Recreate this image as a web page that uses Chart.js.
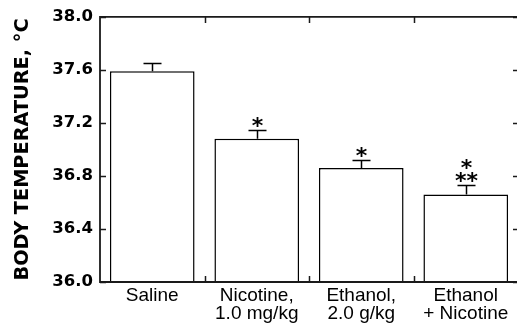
<!DOCTYPE html>
<html>
<head>
<meta charset="utf-8">
<script src="https://cdn.jsdelivr.net/npm/chart.js@4/dist/chart.umd.min.js"></script>
<style>
  html, body { margin: 0; padding: 0; background: #fff; overflow: hidden; }
  #wrap { width: 518px; height: 327px; }
</style>
</head>
<body>
<div id="wrap"><canvas id="c" width="518" height="327"></canvas></div>
<script>
// Treatment groups (multi-line axis labels)
const groups = [['Saline'], ['Nicotine,', '1.0 mg/kg'], ['Ethanol,', '2.0 g/kg'], ['Ethanol', '+ Nicotine']];
// Mean body temperature (°C) and SEM per group
const meanTemp = [37.59, 37.08, 36.86, 36.66];
const semTemp = [0.06, 0.07, 0.06, 0.07];
// Significance marks above each bar, listed top row first
const significance = [[], ['*'], ['*'], ['*', '**']];
// Y axis tick values
const yTicks = [36.0, 36.4, 36.8, 37.2, 37.6, 38.0];

const INK = '#000';

// Draws the frame plus inward tick marks on all four sides
const framePlugin = {
  id: 'frame',
  afterDatasetsDraw(chart) {
    const { ctx, chartArea: a, scales: { x, y } } = chart;
    ctx.save();
    ctx.strokeStyle = '#1a1a1a';
    ctx.lineWidth = 1.8;
    ctx.beginPath();
    ctx.moveTo(a.right + 2, a.top); ctx.lineTo(a.left, a.top);
    ctx.lineTo(a.left, a.bottom); ctx.lineTo(a.right + 2, a.bottom);
    ctx.stroke();
    ctx.lineWidth = 1.5;
    ctx.beginPath();
    yTicks.forEach(v => {
      const py = Math.round(y.getPixelForValue(v)) + 0.5;
      ctx.moveTo(a.left, py); ctx.lineTo(a.left + 6, py);
      ctx.moveTo(a.right + 1, py); ctx.lineTo(a.right - 5, py);
    });
    for (let i = 0; i < groups.length - 1; i++) {
      const px = Math.round((x.getPixelForValue(i) + x.getPixelForValue(i + 1)) / 2) + 0.5;
      ctx.moveTo(px, a.top); ctx.lineTo(px, a.top + 6);
      ctx.moveTo(px, a.bottom); ctx.lineTo(px, a.bottom - 6);
    }
    ctx.stroke();
    ctx.restore();
  }
};

// Draws SEM whiskers and significance asterisks
const errorPlugin = {
  id: 'errors',
  afterDatasetsDraw(chart) {
    const { ctx, scales: { x, y } } = chart;
    ctx.save();
    ctx.strokeStyle = INK;
    ctx.lineWidth = 1.5;
    ctx.fillStyle = INK;
    ctx.font = 'bold 22px "DejaVu Sans"';
    ctx.textAlign = 'center';
    ctx.textBaseline = 'alphabetic';
    meanTemp.forEach((m, i) => {
      const xc = Math.round(x.getPixelForValue(i)) + 0.5;
      const y0 = y.getPixelForValue(m);
      const y1 = Math.round(y.getPixelForValue(m + semTemp[i])) + 0.5;
      ctx.beginPath();
      ctx.moveTo(xc, y0); ctx.lineTo(xc, y1);
      ctx.moveTo(xc - 9, y1); ctx.lineTo(xc + 9, y1);
      ctx.stroke();
      const rows = significance[i];
      let bottom = y1 - 4;
      for (let r = rows.length - 1; r >= 0; r--) {
        const mt = ctx.measureText(rows[r]);
        // baseline chosen so the lowest ink of the glyphs sits at "bottom"
        ctx.fillText(rows[r], xc, bottom - mt.actualBoundingBoxDescent);
        bottom -= 13;
      }
    });
    ctx.restore();
  }
};

new Chart(document.getElementById('c'), {
  type: 'bar',
  data: {
    labels: groups,
    datasets: [{
      data: meanTemp,
      backgroundColor: '#fff',
      borderColor: INK,
      borderWidth: 1.5,
      borderSkipped: 'bottom',
      barPercentage: 0.81,
      categoryPercentage: 1
    }]
  },
  options: {
    responsive: false,
    devicePixelRatio: 1,
    animation: false,
    layout: { padding: { top: 15, right: 0, left: 0, bottom: 0 } },
    plugins: { legend: { display: false }, tooltip: { enabled: false } },
    scales: {
      x: {
        grid: { display: false, drawTicks: false },
        border: { display: false },
        ticks: {
          color: INK,
          font: { family: '"Liberation Sans", Arial, sans-serif', size: 19, lineHeight: 0.95 },
          padding: 5,
          maxRotation: 0,
          autoSkip: false
        },
        afterFit(s) { s.height = 45; }
      },
      y: {
        min: 36,
        max: 38,
        afterBuildTicks(s) { s.ticks = yTicks.map(v => ({ value: v })); },
        grid: { display: false, drawTicks: false },
        border: { display: false },
        ticks: {
          color: INK,
          font: { family: '"DejaVu Sans"', weight: 'bold', size: 16.5 },
          padding: 7,
          callback: v => Number(v).toFixed(1)
        },
        title: {
          display: true,
          text: 'BODY TEMPERATURE, °C',
          color: INK,
          font: { family: '"DejaVu Sans"', weight: 'bold', size: 19.3 },
          padding: { top: 11, bottom: 0 }
        },
        afterFit(s) { s.width = 100; }
      }
    }
  },
  plugins: [errorPlugin, framePlugin]
});
</script>
</body>
</html>
